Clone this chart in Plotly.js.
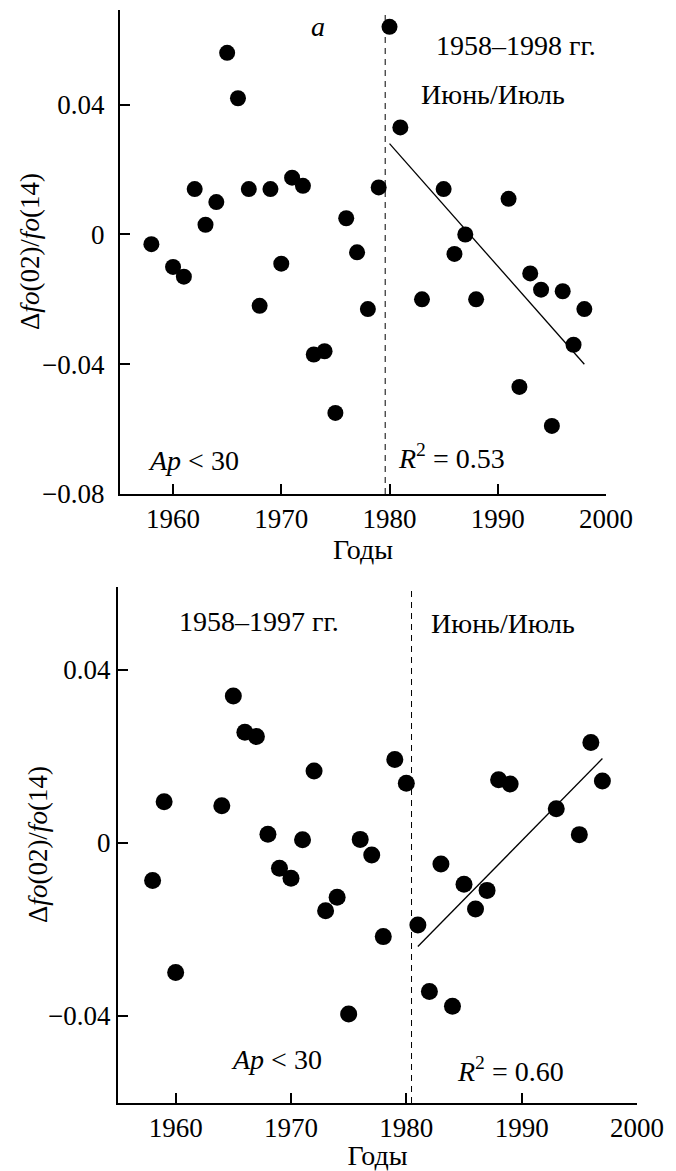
<!DOCTYPE html>
<html>
<head>
<meta charset="utf-8">
<script src="https://cdn.plot.ly/plotly-3.0.1.min.js"></script>
<style>html,body{margin:0;padding:0;background:#fff;}#chart{width:676px;height:1171px;}</style>
</head>
<body>
<div id="chart"></div>
<script>
// Panel а (1958–1998)
const yearsA = [1958,1960,1961,1962,1963,1964,1965,1966,1967,1968,1969,1970,1971,1972,1973,1974,1975,1976,1977,1978,1979,1980,1981,1983,1985,1986,1987,1988,1991,1992,1993,1994,1995,1996,1997,1998];
const valuesA = [-0.003,-0.010,-0.013,0.014,0.003,0.010,0.056,0.042,0.014,-0.022,0.014,-0.009,0.0175,0.015,-0.037,-0.036,-0.055,0.005,-0.0055,-0.023,0.0145,0.064,0.033,-0.020,0.014,-0.006,0.000,-0.020,0.011,-0.047,-0.012,-0.017,-0.059,-0.0175,-0.034,-0.023];
const trendXA = [1980, 1998];
const trendYA = [0.028, -0.040];
const splitXA = [1979.6, 1979.6];
const splitYA = [-0.08, 0.068];

// Panel б (1958–1997)
const yearsB = [1958,1959,1960,1964,1965,1966,1967,1968,1969,1970,1971,1972,1973,1974,1975,1976,1977,1978,1979,1980,1981,1982,1983,1984,1985,1986,1987,1988,1989,1993,1995,1996,1997];
const valuesB = [-0.0087,0.0095,-0.030,0.0086,0.034,0.0256,0.0246,0.002,-0.0059,-0.0082,0.0007,0.0166,-0.0157,-0.0126,-0.0396,0.0008,-0.0028,-0.0217,0.0193,0.0138,-0.019,-0.0344,-0.0049,-0.0378,-0.0096,-0.0153,-0.011,0.0146,0.0136,0.0079,0.0019,0.0232,0.0143];
const trendXB = [1981, 1997];
const trendYB = [-0.024, 0.0195];
const splitXB = [1980.45, 1980.45];
const splitYB = [-0.0602, 0.0585];

const yTickValsA = [-0.08,-0.04,0,0.04];
const yTickTextA = ["\u22120.08","\u22120.04","0","0.04"];
const yTickValsB = [-0.04,0,0.04];
const yTickTextB = ["\u22120.04","0","0.04"];
const xTickVals = [1960,1970,1980,1990,2000];
const xTickText = ["1960","1970","1980","1990","2000"];
const yTitle = 'Δ<i>fo</i>(02)/<i>fo</i>(14)';

const FONT = "'Liberation Serif', 'Times New Roman', serif";

const traces = [
  {x: splitXA, y: splitYA, xaxis:'x', yaxis:'y', mode:'lines', line:{color:'#000', width:1, dash:'6px,5px'}, hoverinfo:'skip'},
  {x: trendXA, y: trendYA, xaxis:'x', yaxis:'y', mode:'lines', line:{color:'#000', width:1.3}},
  {x: yearsA, y: valuesA, xaxis:'x', yaxis:'y', mode:'markers', marker:{color:'#000', size:16}, cliponaxis:false},
  {x: splitXB, y: splitYB, xaxis:'x2', yaxis:'y2', mode:'lines', line:{color:'#000', width:1, dash:'6px,5px'}, hoverinfo:'skip'},
  {x: trendXB, y: trendYB, xaxis:'x2', yaxis:'y2', mode:'lines', line:{color:'#000', width:1.3}},
  {x: yearsB, y: valuesB, xaxis:'x2', yaxis:'y2', mode:'markers', marker:{color:'#000', size:17}, cliponaxis:false}
];

function xax(domain, anchor, range){
  return {domain: domain, anchor: anchor, range: range, showline:true, linecolor:'#000', linewidth:2,
    ticks:'inside', ticklen:10, tickwidth:2, tickcolor:'#000', showgrid:false, zeroline:false,
    tickvals:xTickVals, ticktext:xTickText, tickfont:{family:FONT, size:27, color:'#000'},
    title:{text:'Годы', font:{family:FONT, size:28, color:'#000'}, standoff:4}};
}
function yax(domain, anchor, range, tv, tt, so){
  return {domain: domain, anchor: anchor, range: range, showline:true, linecolor:'#000', linewidth:2,
    ticks:'inside', ticklen:10, tickwidth:2, tickcolor:'#000', showgrid:false, zeroline:false,
    tickvals:tv, ticktext:tt, tickfont:{family:FONT, size:27, color:'#000'}, ticklabelstandoff:so};
}

const annFont = {family:FONT, size:28, color:'#000'};
const titleFont = {family:FONT, size:27, color:'#000'};
const layout = {
  width:676, height:1171, showlegend:false,
  margin:{l:0, r:0, t:0, b:0},
  paper_bgcolor:'#fff', plot_bgcolor:'#fff',
  xaxis: xax([120/676, 606/676], 'y', [1955.1, 2000]),
  yaxis: yax([1-494/1171, 1-10/1171], 'x', [-0.08, 0.0692], yTickValsA, yTickTextA, 8),
  xaxis2: xax([118/676, 637/676], 'y2', [1955.0, 2000]),
  yaxis2: yax([1-1103/1171, 1-587/1171], 'x2', [-0.0602, 0.0592], yTickValsB, yTickTextB, 0),
  annotations: [
    {xref:'paper', yref:'y domain', x:30/676, y:0.5, text:yTitle, textangle:-90, showarrow:false, font:titleFont, xanchor:'center', yanchor:'middle'},
    {xref:'paper', yref:'y2 domain', x:38/676, y:0.5, text:yTitle, textangle:-90, showarrow:false, font:titleFont, xanchor:'center', yanchor:'middle'},
    {xref:'x', yref:'y', x:1973.4, y:0.064, text:'<i>а</i>', showarrow:false, font:annFont},
    {xref:'x', yref:'y', x:1991.65, y:0.0582, text:'1958–1998 гг.', showarrow:false, font:annFont},
    {xref:'x', yref:'y', x:1989.6, y:0.0432, text:'Июнь/Июль', showarrow:false, font:annFont},
    {xref:'x', yref:'y', x:1961.9, y:-0.0698, text:'<i>Ap</i> &lt; 30', showarrow:false, font:annFont},
    {xref:'x', yref:'y', x:1985.7, y:-0.0683, text:'<i>R</i><sup>2</sup> = 0.53', showarrow:false, font:annFont},
    {xref:'x2', yref:'y2', x:1972.35, y:0.0604, text:'<i>б</i>', showarrow:false, font:annFont},
    {xref:'x2', yref:'y2', x:1967.2, y:0.0512, text:'1958–1997 гг.', showarrow:false, font:annFont},
    {xref:'x2', yref:'y2', x:1988.4, y:0.0508, text:'Июнь/Июль', showarrow:false, font:annFont},
    {xref:'x2', yref:'y2', x:1968.7, y:-0.0502, text:'<i>Ap</i> &lt; 30', showarrow:false, font:annFont},
    {xref:'x2', yref:'y2', x:1989.0, y:-0.0525, text:'<i>R</i><sup>2</sup> = 0.60', showarrow:false, font:annFont}
  ]
};

Plotly.newPlot('chart', traces, layout, {staticPlot:true, displayModeBar:false});
</script>
</body>
</html>
